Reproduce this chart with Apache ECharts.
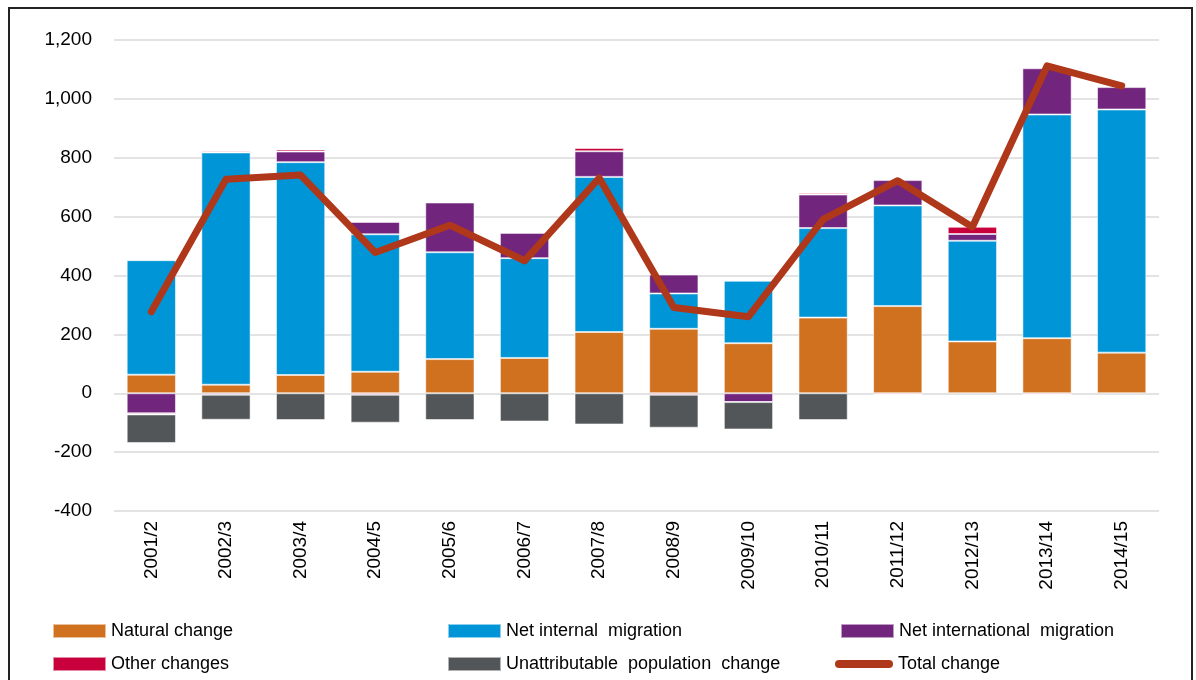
<!DOCTYPE html>
<html>
<head>
<meta charset="utf-8">
<script src="https://cdn.jsdelivr.net/npm/echarts@6/dist/echarts.min.js"></script>
<style>
  html, body { margin: 0; padding: 0; background: #fff; }
  #main { width: 1196px; height: 680px; }
</style>
</head>
<body>
<div id="main"></div>
<script>
// categories (years)
var categories = ['2001/2', '2002/3', '2003/4', '2004/5', '2005/6', '2006/7', '2007/8',
  '2008/9', '2009/10', '2010/11', '2011/12', '2012/13', '2013/14', '2014/15']

// components of change
var naturalChange = [63, 29, 62, 73, 116, 120, 208, 219, 170, 257, 296, 176, 187, 138]
var netInternal = [389, 789, 723, 467, 363, 339, 527, 120, 212, 304, 342, 342, 760, 826]
var netInternational = [-68, -5, 36, 42, 169, 86, 87, 64, -30, 114, 86, 23, 157, 76]
var otherChanges = [-4, 4, 7, -5, 0, 0, 11, -5, 0, 5, -4, 25, -4, 4]
var unattributable = [-97, -85, -91, -95, -91, -96, -106, -112, -93, -91, 0, 0, 0, 0]
var totalChange = [277, 727, 741, 478, 571, 450, 731, 291, 260, 591, 722, 565, 1112, 1044]

// y axis ticks
var yMin = -400
var yMax = 1200
var yStep = 200

var FONT = 'Liberation Sans, Arial, sans-serif'
var colors = {
  natural: '#D0711F',
  internal: '#0095D6',
  international: '#72257D',
  other: '#C8003C',
  unattr: '#525659',
  total: '#B0381A'
}

var myChart = echarts.init(document.getElementById('main'))

function barSeries(name, data, color) {
  return {
    name: name,
    type: 'bar',
    stack: 'change',
    barCategoryGap: '34%',
    itemStyle: {
      color: color,
      borderColor: 'rgba(255,255,255,0.55)',
      borderWidth: 1
    },
    data: data
  }
}

// one legend per item so each sits in its own column
function legendItem(name, left, top, lineIcon) {
  var lg = {
    left: left,
    top: top,
    itemWidth: 53,
    itemHeight: 14,
    itemGap: 0,
    textStyle: { fontFamily: FONT, fontSize: 18, color: '#000' },
    data: [{ name: name, icon: 'rect' }]
  }
  if (lineIcon) {
    lg.data[0].icon = lineIcon
    lg.itemWidth = 58
    lg.itemHeight = 8
  }
  return lg
}

var option = {
  animation: false,
  textStyle: { fontFamily: FONT },
  grid: {
    left: 114,
    right: 37,
    top: 40,
    height: 471
  },
  legend: [
    legendItem('Natural change', 47, 617),
    legendItem('Net internal  migration', 442, 617),
    legendItem('Net international  migration', 835, 617),
    legendItem('Other changes', 47, 650),
    legendItem('Unattributable  population  change', 442, 650),
    legendItem('Total change', 830, 650, 'path://M4,0 L54,0 A4,4 0 0 1 54,8 L4,8 A4,4 0 0 1 4,0 Z')
  ],
  xAxis: {
    type: 'category',
    data: categories,
    position: 'bottom',
    axisLine: { show: false, onZero: false },
    axisTick: { show: false },
    axisLabel: {
      rotate: 90,
      margin: 10,
      color: '#000',
      fontSize: 19,
      fontFamily: FONT
    }
  },
  yAxis: {
    type: 'value',
    min: yMin,
    max: yMax,
    interval: yStep,
    axisLine: { show: false },
    axisTick: { show: false },
    axisLabel: {
      margin: 22,
      color: '#000',
      fontSize: 19,
      fontFamily: FONT,
      formatter: function (v) { return v.toLocaleString('en-US') }
    },
    splitLine: { lineStyle: { color: '#dadada', width: 1.5 } }
  },
  series: [
    barSeries('Natural change', naturalChange, colors.natural),
    barSeries('Net internal  migration', netInternal, colors.internal),
    barSeries('Net international  migration', netInternational, colors.international),
    barSeries('Other changes', otherChanges, colors.other),
    barSeries('Unattributable  population  change', unattributable, colors.unattr),
    {
      name: 'Total change',
      type: 'line',
      z: 5,
      symbol: 'none',
      itemStyle: { color: colors.total },
      lineStyle: { color: colors.total, width: 7, cap: 'round', join: 'round' },
      data: totalChange
    }
  ],
  graphic: [
    {
      type: 'rect',
      shape: { x: 9, y: 8, width: 1183, height: 690 },
      style: { fill: 'none', stroke: '#222', lineWidth: 2 },
      silent: true
    }
  ]
}

myChart.setOption(option)
</script>
</body>
</html>
